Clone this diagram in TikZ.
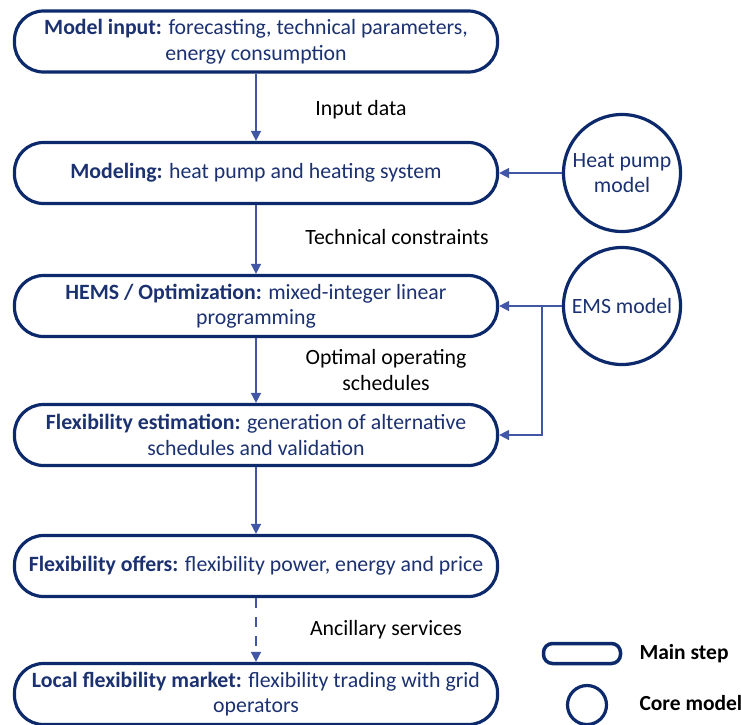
\documentclass[tikz,border=0pt]{standalone}
\usepackage{fontspec}
\setmainfont{Carlito}
\usetikzlibrary{arrows.meta}
\definecolor{navy}{HTML}{0C2A6B}
\definecolor{navytext}{HTML}{1B3170}
\definecolor{flow}{HTML}{4157A6}
\begin{document}
\begin{tikzpicture}[x=1pt,y=-1pt,
  txt/.style={font=\fontsize{21.8}{25.5}\selectfont},
  stepbox/.style={txt, draw=navy, line width=3.2pt, rounded corners=29pt,
    minimum width=483pt, minimum height=61pt, inner sep=0pt,
    text=navytext, align=center},
  coremodel/.style={txt, circle, draw=navy, line width=3.2pt,
    minimum size=117pt, inner sep=0pt, text=navytext, align=center},
  lbl/.style={txt, text=black, align=center},
  lgtxt/.style={text=black, font=\fontsize{21.5}{25.5}\selectfont\bfseries, anchor=west},
  flowarrow/.style={draw=flow, line width=1.5pt,
    -{Triangle[length=10pt,width=10pt]}}]
\useasboundingbox (0,0) rectangle (741,724);
\clip (0,0) rectangle (741,724);

% main steps
\node[stepbox] (s1) at (256,41.5) {\textbf{Model input:} forecasting, technical parameters,\\energy consumption};
\node[stepbox] (s2) at (256,173) {\textbf{Modeling:} heat pump and heating system};
\node[stepbox] (s3) at (256,306) {\textbf{HEMS / Optimization:} mixed-integer linear\\programming};
\node[stepbox] (s4) at (256,435) {\textbf{Flexibility estimation:} generation of alternative\\schedules and validation};
\node[stepbox] (s5) at (256,566) {\textbf{Flexibility offers:} flexibility power, energy and price};
\node[stepbox] (s6) at (256,694) {\textbf{Local flexibility market:} flexibility trading with grid\\operators};

% core models
\node[coremodel] (hp) at (622,173) {Heat pump\\model};
\node[coremodel] (ems) at (622,306) {EMS model};

% flow labels
\node[lbl] (l1) at (361,110) {Input data};
\node[lbl] (l2) at (397,237) {Technical constraints};
\node[lbl] (l3) at (386,370) {Optimal operating\\schedules};
\node[lbl] (l4) at (386,630) {Ancillary services};

% connectors
\draw[flowarrow] (s1) -- (s2);
\draw[flowarrow] (s2) -- (s3);
\draw[flowarrow] (s3) -- (s4);
\draw[flowarrow] (s4) -- (s5);
\draw[flowarrow, dash pattern=on 10pt off 9pt] (s5) -- (s6);
\draw[flowarrow] (hp.west) -- (s2.east);
\draw[flowarrow] (ems.west) -- (s3.east);
\coordinate (br) at (542,306);
\draw[flowarrow] (br) |- (s4.east);

% legend
\node[draw=navy, line width=3.5pt, rounded corners=9pt, minimum width=77pt,
  minimum height=20pt, inner sep=0pt] (lgstep) at (582,653.5) {};
\node[lgtxt] (lgsteptxt) at (636,654) {Main step};
\node[circle, draw=navy, line width=3.2pt, minimum size=39pt, inner sep=0pt] (lgcore) at (587,705) {};
\node[lgtxt] (lgcoretxt) at (636,703) {Core model};
\end{tikzpicture}
\end{document}
